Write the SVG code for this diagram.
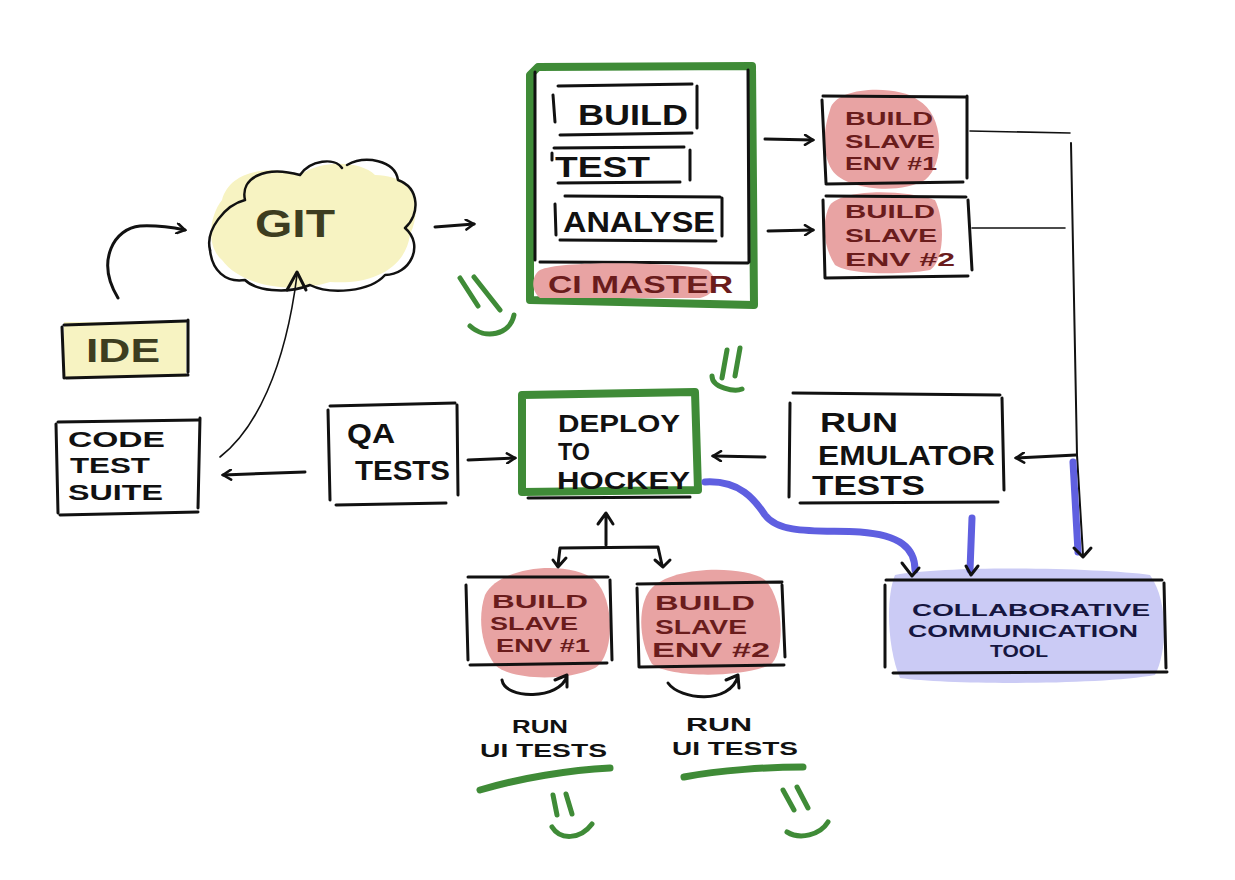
<svg xmlns="http://www.w3.org/2000/svg" width="1235" height="880" viewBox="0 0 1235 880">
<defs>
<style>
.ln{fill:none;stroke:#111;stroke-width:3;stroke-linecap:round;stroke-linejoin:round}
.thin{fill:none;stroke:#111;stroke-width:1.6;stroke-linecap:round;stroke-linejoin:round}
.gr{fill:none;stroke:#3f8b37;stroke-width:8;stroke-linecap:round;stroke-linejoin:round}
.grs{fill:none;stroke:#3f8b37;stroke-width:5;stroke-linecap:round}
.bl{fill:none;stroke:#5f5fe0;stroke-width:7;stroke-linecap:round;stroke-linejoin:round}
.t{font-family:"Liberation Sans",Arial,sans-serif;font-weight:bold;fill:#111}
.tr{font-family:"Liberation Sans",Arial,sans-serif;font-weight:bold;fill:#6a1c1c}
.tn{font-family:"Liberation Sans",Arial,sans-serif;font-weight:bold;fill:#161640}
.pink{fill:#e8a3a3}
</style>
<marker id="ah" viewBox="0 0 12 12" refX="10" refY="6" markerWidth="12" markerHeight="12" markerUnits="userSpaceOnUse" orient="auto">
<path d="M2,1 L10,6 L2,11" fill="none" stroke="#111" stroke-width="2.5" stroke-linecap="round"/>
</marker>
</defs>
<rect width="1235" height="880" fill="#ffffff"/>

<g id="git">
<path d="M222,200 C230,170 270,165 300,175 C320,160 360,160 375,175 C410,175 425,200 410,235 C405,270 370,285 330,282 C290,295 240,285 222,260 C205,245 210,215 222,200 Z" fill="#f7f3c2"/>
<path class="ln" style="stroke-width:2.5" d="M210,250 C205,230 225,205 245,200 C240,178 265,165 300,175 C310,160 335,157 342,168"/>
<path class="ln" style="stroke-width:2.5" d="M347,165 C365,155 395,160 398,180 C420,188 420,215 405,228 C425,245 410,275 385,275 C370,292 330,295 310,285 C285,295 255,290 245,280 C225,283 212,270 210,250"/>
<text class="t" x="255" y="237" font-size="38" textLength="80" lengthAdjust="spacingAndGlyphs" style="fill:#3d3d1f">GIT</text>
</g>

<g id="ide">
<rect x="64" y="322" width="122" height="55" fill="#f7f3c2"/>
<path class="ln" d="M64,325 L186,321 M62,327 L64,378 M188,320 L188,372 M66,378 L188,375"/>
<text class="t" x="86" y="362" font-size="34" textLength="74" lengthAdjust="spacingAndGlyphs" style="fill:#3d3d1f">IDE</text>
</g>

<g id="code-test-suite">
<path class="ln" d="M58,422 L198,420 M56,424 L58,513 M200,418 L198,508 M60,515 L198,512"/>
<text class="t" x="68" y="447" font-size="22" textLength="97" lengthAdjust="spacingAndGlyphs">CODE</text>
<text class="t" x="70" y="473" font-size="22" textLength="80" lengthAdjust="spacingAndGlyphs">TEST</text>
<text class="t" x="68" y="500" font-size="22" textLength="95" lengthAdjust="spacingAndGlyphs">SUITE</text>
</g>

<g id="qa-tests">
<path class="ln" d="M330,406 L455,403 M328,410 L330,500 M457,405 L458,495 M336,505 L446,503"/>
<text class="t" x="347" y="443" font-size="28" textLength="48" lengthAdjust="spacingAndGlyphs">QA</text>
<text class="t" x="355" y="480" font-size="28" textLength="95" lengthAdjust="spacingAndGlyphs">TESTS</text>
</g>

<g id="ci-master">
<path class="gr" d="M538,67 L752,66 L754,305 L530,300 L530,75 Z"/>
<path class="ln" d="M535,72 L535,260 M748,70 L749,262"/>
<path class="ln" d="M558,86 L692,84 M553,95 L555,122 M697,86 L697,128 M560,135 L692,133"/>
<path class="ln" d="M554,148 L684,147 M552,153 L552,160 M690,150 L690,180 M558,183 L680,182"/>
<path class="ln" d="M565,196 L720,197 M555,204 L556,235 M722,198 L722,236 M560,240 L716,241"/>
<path class="ln" d="M540,262 L748,263"/>
<path class="pink" d="M540,270 C560,260 680,262 708,270 C720,280 715,295 700,298 L540,298 C530,290 532,275 540,270 Z"/>
<text class="t" x="578" y="125" font-size="30" textLength="110" lengthAdjust="spacingAndGlyphs">BUILD</text>
<text class="t" x="555" y="177" font-size="30" textLength="95" lengthAdjust="spacingAndGlyphs">TEST</text>
<text class="t" x="563" y="232" font-size="30" textLength="152" lengthAdjust="spacingAndGlyphs">ANALYSE</text>
<text class="tr" x="548" y="293" font-size="24" textLength="185" lengthAdjust="spacingAndGlyphs">CI MASTER</text>
</g>

<g id="slave-top-1">
<path class="pink" d="M830,110 C835,85 900,85 918,100 C945,115 945,165 925,180 C900,195 845,190 832,170 C820,150 825,125 830,110 Z"/>
<path class="ln" d="M823,96 L965,97 M822,100 L826,183 M967,96 L967,178 M826,184 L963,182"/>
<text class="tr" x="845" y="125" font-size="19" textLength="88" lengthAdjust="spacingAndGlyphs">BUILD</text>
<text class="tr" x="845" y="148" font-size="19" textLength="90" lengthAdjust="spacingAndGlyphs">SLAVE</text>
<text class="tr" x="845" y="170" font-size="19" textLength="92" lengthAdjust="spacingAndGlyphs">ENV #1</text>
</g>

<g id="slave-top-2">
<path class="pink" d="M830,205 C845,188 905,190 935,200 C945,220 945,260 930,270 C900,275 850,275 835,265 C822,245 822,220 830,205 Z"/>
<path class="ln" d="M826,196 L966,197 M823,200 L825,278 M968,200 L972,270 M825,278 L968,276"/>
<text class="tr" x="845" y="218" font-size="19" textLength="90" lengthAdjust="spacingAndGlyphs">BUILD</text>
<text class="tr" x="845" y="242" font-size="19" textLength="92" lengthAdjust="spacingAndGlyphs">SLAVE</text>
<text class="tr" x="845" y="266" font-size="19" textLength="110" lengthAdjust="spacingAndGlyphs">ENV #2</text>
</g>

<g id="deploy-to-hockey">
<path class="gr" d="M522,395 L695,392 L698,490 L522,492 Z"/>
<path class="ln" d="M528,498 L690,497"/>
<text class="t" x="558" y="432" font-size="24" textLength="122" lengthAdjust="spacingAndGlyphs">DEPLOY</text>
<text class="t" x="558" y="460" font-size="24" textLength="32" lengthAdjust="spacingAndGlyphs">TO</text>
<text class="t" x="557" y="489" font-size="24" textLength="133" lengthAdjust="spacingAndGlyphs">HOCKEY</text>
</g>

<g id="run-emulator-tests">
<path class="ln" d="M793,393 L1000,395 M790,403 L789,497 M1002,398 L1004,490 M800,503 L998,502"/>
<text class="t" x="820" y="432" font-size="27" textLength="78" lengthAdjust="spacingAndGlyphs">RUN</text>
<text class="t" x="818" y="465" font-size="27" textLength="177" lengthAdjust="spacingAndGlyphs">EMULATOR</text>
<text class="t" x="812" y="495" font-size="27" textLength="113" lengthAdjust="spacingAndGlyphs">TESTS</text>
</g>

<g id="collaborative-tool">
<path d="M895,575 C950,565 1100,568 1150,575 C1168,600 1168,650 1155,675 C1100,685 950,685 900,678 C888,650 885,600 895,575 Z" fill="#cbcbf5"/>
<path class="ln" d="M886,580 L1162,580 M885,585 L885,667 M1164,583 L1166,668 M893,673 L1167,672"/>
<text class="tn" x="912" y="616" font-size="17" textLength="238" lengthAdjust="spacingAndGlyphs">COLLABORATIVE</text>
<text class="tn" x="908" y="637" font-size="17" textLength="230" lengthAdjust="spacingAndGlyphs">COMMUNICATION</text>
<text class="tn" x="990" y="657" font-size="16" textLength="58" lengthAdjust="spacingAndGlyphs">TOOL</text>
</g>

<g id="slave-bottom-1">
<path class="pink" d="M485,595 C500,565 570,560 595,580 C615,600 615,655 595,668 C565,682 510,680 495,665 C480,645 478,615 485,595 Z"/>
<path class="ln" d="M468,577 L608,577 M466,585 L468,660 M610,580 L612,660 M470,665 L607,663"/>
<text class="tr" x="492" y="608" font-size="19" textLength="96" lengthAdjust="spacingAndGlyphs">BUILD</text>
<text class="tr" x="490" y="630" font-size="19" textLength="88" lengthAdjust="spacingAndGlyphs">SLAVE</text>
<text class="tr" x="496" y="652" font-size="19" textLength="94" lengthAdjust="spacingAndGlyphs">ENV #1</text>
</g>

<g id="slave-bottom-2">
<path class="pink" d="M650,590 C670,565 745,565 765,580 C785,600 785,655 770,665 C740,678 670,678 652,664 C638,640 638,605 650,590 Z"/>
<path class="ln" d="M637,584 L782,582 M637,588 L639,667 M782,585 L785,657 M640,667 L784,665"/>
<text class="tr" x="655" y="610" font-size="20" textLength="100" lengthAdjust="spacingAndGlyphs">BUILD</text>
<text class="tr" x="655" y="634" font-size="20" textLength="92" lengthAdjust="spacingAndGlyphs">SLAVE</text>
<text class="tr" x="652" y="657" font-size="20" textLength="118" lengthAdjust="spacingAndGlyphs">ENV #2</text>
</g>

<g id="run-ui-tests-1">
<text class="t" x="512" y="733" font-size="19" textLength="56" lengthAdjust="spacingAndGlyphs">RUN</text>
<text class="t" x="480" y="757" font-size="19" textLength="127" lengthAdjust="spacingAndGlyphs">UI TESTS</text>
<path class="grs" style="stroke-width:7" d="M480,790 C520,778 570,770 610,768"/>
<path class="grs" d="M553,795 L557,815 M566,794 L572,814 M552,827 C560,840 580,840 592,824"/>
</g>

<g id="run-ui-tests-2">
<text class="t" x="686" y="731" font-size="19" textLength="66" lengthAdjust="spacingAndGlyphs">RUN</text>
<text class="t" x="672" y="755" font-size="19" textLength="126" lengthAdjust="spacingAndGlyphs">UI TESTS</text>
<path class="grs" style="stroke-width:7" d="M684,777 C720,770 770,767 803,767"/>
<path class="grs" d="M783,790 L794,810 M797,787 L808,808 M787,832 C800,840 820,835 828,822"/>
</g>

<g id="smileys">
<path class="grs" d="M460,278 L478,306 M474,277 L500,310 M470,326 C485,340 510,335 514,315"/>
<path class="grs" d="M727,350 L722,378 M740,348 L735,376 M712,376 C712,388 735,392 742,389"/>
</g>

<g id="connectors">
<path class="ln" marker-end="url(#ah)" d="M118,298 C95,260 115,228 140,226 C160,225 175,228 185,230"/>
<path class="thin" d="M220,457 C255,430 285,370 297,275"/>
<path class="ln" d="M287,290 L297,272 L306,290"/>
<path class="ln" marker-end="url(#ah)" d="M435,227 L474,224"/>
<path class="ln" marker-end="url(#ah)" d="M305,472 L223,475"/>
<path class="ln" marker-end="url(#ah)" d="M468,460 L515,458"/>
<path class="ln" marker-end="url(#ah)" d="M765,139 L813,140"/>
<path class="ln" marker-end="url(#ah)" d="M768,231 L813,230"/>
<path class="thin" d="M970,131 L1070,133 M972,228 L1065,228"/>
<path class="thin" style="stroke-width:2" d="M1071,143 L1077,455 L1083,555"/>
<path class="bl" d="M1073,462 L1078,552"/>
<path class="ln" marker-end="url(#ah)" d="M1076,455 L1016,458"/>
<path class="ln" d="M1074,548 L1083,557 L1091,548"/>
<path class="ln" marker-end="url(#ah)" d="M765,457 L713,456"/>
<path class="bl" d="M705,482 C740,480 755,500 765,515 C780,535 820,530 860,532 C900,535 915,548 915,570"/>
<path class="ln" d="M902,563 L912,576 L919,568"/>
<path class="bl" d="M972,518 L970,570"/>
<path class="ln" d="M966,566 L971,575 L978,566"/>
<path class="ln" d="M606,545 L606,514 M598,524 L606,513 L613,524"/>
<path class="ln" d="M558,565 L560,548 L658,547 L662,565 M553,560 L558,567 M566,558 L558,567 M655,560 L663,567 L670,560"/>
<path class="ln" d="M502,680 C505,700 560,700 567,676 M555,680 L567,675 L567,687"/>
<path class="ln" d="M668,683 C680,700 730,705 738,676 M726,680 L738,675 L739,688"/>
</g>
</svg>
